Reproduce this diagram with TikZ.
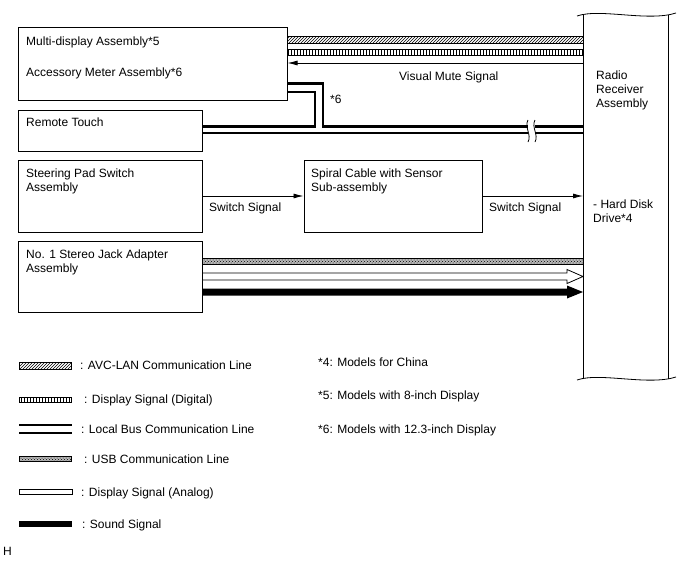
\documentclass[tikz,border=0pt]{standalone}
\usepackage{fontspec}
\setmainfont{Liberation Sans}
\usetikzlibrary{patterns,arrows.meta}
\begin{document}
\begin{tikzpicture}[x=1pt,y=-1pt,
  font=\fontsize{12}{14}\selectfont,
  box/.style={draw, line width=1pt, inner sep=0pt},
  txt/.style={anchor=base west, inner sep=0pt},
  lb/.style={line width=2.5pt},
  thinarrow/.style={line width=0.8pt, -{Latex[length=10pt,width=5pt]}},
  avc/.style={draw, line width=0.6pt, pattern=north east lines},
  dig/.style={draw, line width=0.6pt, pattern=vertical lines},
  usb/.style={draw, line width=0.6pt, preaction={fill=gray!55}, pattern=crosshatch dots},
]
\useasboundingbox (0,0) rectangle (688,560);

% boxes
\node[box, minimum width=269, minimum height=73] (md) at (152.5,63.5) {};
\node[box, minimum width=184, minimum height=41] (rt) at (110,130.5) {};
\node[box, minimum width=184, minimum height=72] (sp) at (110,196) {};
\node[box, minimum width=178, minimum height=72] (sc) at (393,196) {};
\node[box, minimum width=184, minimum height=71] (sj) at (110,276.5) {};

% receiver
\node[inner sep=0pt, minimum width=85, minimum height=364, anchor=north west] (rx) at (583,15) {};
\draw[line width=0.9pt] (rx.north west) -- (rx.south west) (rx.north east) -- (rx.south east);
\draw[line width=0.8pt] (577,16) .. controls (600,8) and (648,22) .. (676,13);
\draw[line width=0.8pt] (577,380) .. controls (600,372) and (648,386) .. (676,377);

% box texts
\node[txt] (t1) at (26,45) {Multi-display Assembly*5};
\node[txt] (t2) at (26,76) {Accessory Meter Assembly*6};
\node[txt] (t3) at (26,126) {Remote Touch};
\node[txt] (t4) at (26,177) {Steering Pad Switch};
\node[txt] (t5) at (26,191) {Assembly};
\node[txt] (t6) at (311,177) {Spiral Cable with Sensor};
\node[txt] (t7) at (311,191) {Sub-assembly};
\node[txt] (t8) at (26,258) {No. 1 Stereo Jack Adapter};
\node[txt] (t9) at (26,272) {Assembly};
\node[txt] (r1) at (596,79) {Radio};
\node[txt] (r2) at (596,93) {Receiver};
\node[txt] (r3) at (596,107) {Assembly};
\node[txt] (r4) at (593,208) {- Hard Disk};
\node[txt] (r5) at (593,222) {Drive*4};

% top connectors
\path[avc] (md.east |- 0,36) rectangle (rx.west |- 0,43);
\path[dig] (md.east |- 0,49) rectangle (rx.west |- 0,55);
\draw[thinarrow] (rx.west |- 0,63) -- (md.east |- 0,63);
\node[txt] (vm) at (399,80) {Visual Mute Signal};

% local bus
\draw[lb] (md.east |- 0,83.5) -| (323,126.5) -- (rx.west |- 0,126.5);
\draw[lb] (md.east |- 0,92) -| (315,126.5) -- (rt.east |- 0,126.5);
\draw[lb] (rt.east |- 0,133) -- (rx.west |- 0,133);
\node[txt] (s6) at (330,103) {*6};
% break mark
\fill[white] (528,122) rectangle (535,138);
\draw[line width=0.8pt] (528,120) .. controls (524,127) and (532,135) .. (528,142);
\draw[line width=0.8pt] (535,120) .. controls (531,127) and (539,135) .. (535,142);

% switch signals
\draw[thinarrow] (sp.east) -- (sc.west);
\node[txt] (sw1) at (209,211) {Switch Signal};
\draw[thinarrow] (sc.east) -- (rx.west |- sc.east);
\node[txt] (sw2) at (489,211) {Switch Signal};

% stereo jack
\path[usb] (sj.east |- 0,258) rectangle (rx.west |- 0,264);
\draw[line width=0.8pt, fill=white] (sj.east |- 0,273) -- (567,273) -- (567,269.5) -- (rx.west |- 0,276.5) -- (567,283.5) -- (567,280) -- (sj.east |- 0,280) -- cycle;
\fill (sj.east |- 0,288.5) -- (567,288.5) -- (567,285.5) -- (rx.west |- 0,292) -- (567,298.5) -- (567,295.5) -- (sj.east |- 0,295.5) -- cycle;

% legend
\path[avc] (19,362) rectangle (71,369);
\node[txt] (l1) at (80,369) {: AVC-LAN Communication Line};
\path[dig] (19,397) rectangle (71,402);
\node[txt] (l2) at (84,403) {: Display Signal (Digital)};
\draw[lb] (19,425) -- (72,425) (19,433) -- (72,433);
\node[txt] (l3) at (81,433) {: Local Bus Communication Line};
\path[usb] (19,456.5) rectangle (71,461.5);
\node[txt] (l4) at (84,463) {: USB Communication Line};
\draw[line width=0.6pt, fill=white] (19,489) rectangle (72,494);
\node[txt] (l5) at (81,496) {: Display Signal (Analog)};
\fill (19,521) rectangle (72,527);
\node[txt] (l6) at (82,528) {: Sound Signal};

% notes
\node[txt] (n1) at (318,366) {*4: Models for China};
\node[txt] (n2) at (318,399) {*5: Models with 8-inch Display};
\node[txt] (n3) at (318,433) {*6: Models with 12.3-inch Display};
\node[txt] (h) at (3,555) {H};
\end{tikzpicture}
\end{document}
